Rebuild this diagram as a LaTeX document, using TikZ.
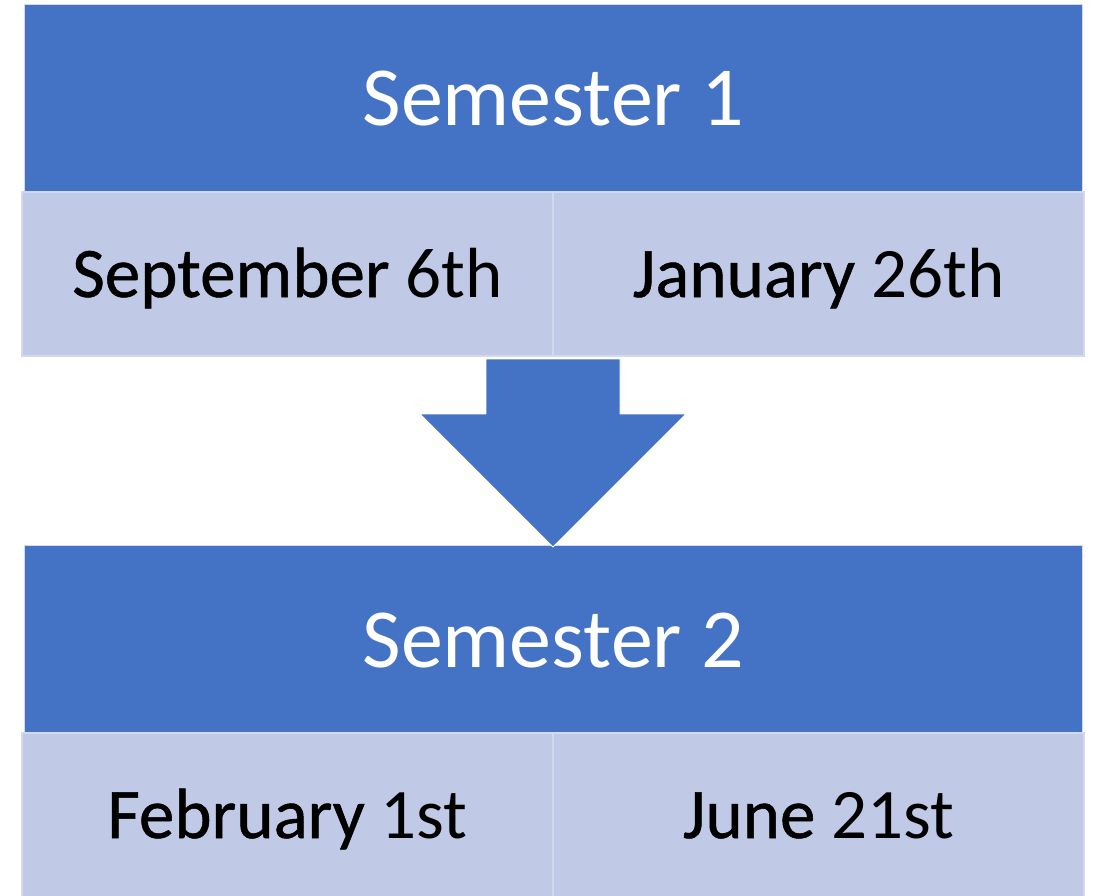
\documentclass[tikz,border=0pt]{standalone}
\usepackage{fontspec}
\setmainfont{Carlito}
\newfontfamily\monthfont[FakeBold=0.7]{Carlito}
\usetikzlibrary{positioning}
\definecolor{semblue}{HTML}{4472C4}
\definecolor{cellblue}{HTML}{C0C9E6}
\definecolor{cellline}{HTML}{D3D9EF}
\begin{document}
\begin{tikzpicture}[x=1pt,y=-1pt]
			\tikzstyle{Box}		= [rectangle, inner sep=0pt, outer sep=0pt]
			\tikzstyle{Header}	= [Box, fill=semblue, draw=cellline, line width=0.8pt, minimum width=1058pt, minimum height=189pt, text=white, font=\fontsize{84}{100}\selectfont, text height=54pt, text depth=0pt]
			\tikzstyle{Cell}		= [Box, fill=cellblue, draw=cellline, line width=1.5pt, minimum width=531pt, minimum height=164pt, text=black, font=\fontsize{71}{85}\selectfont, text height=46pt, text depth=0pt]
			\tikzstyle{Step}		= [fill=semblue, draw=white, line width=0.8pt]

			\useasboundingbox (0,0) rectangle (1094,895);

			\node (s1) at (553,98.5) [Header] {Semester 1};
			\node (s1a) at (287.5,274) [Cell] {{\monthfont September} 6th};
			\node (s1b) at (818.5,274) [Cell] {{\monthfont January} 26th};

			\node (s2) at (553,640) [Header] {Semester 2};
			\node (s2a) at (287.5,815) [Cell] {{\monthfont February} 1st};
			\node (s2b) at (818.5,815) [Cell] {{\monthfont June} 21st};

			% arrow from the first semester down to the second
			\draw [Step] (486,359) -- (620,359) -- (620,414) -- (686,414) -- (553,547) -- (420,414) -- (486,414) -- cycle;
		\end{tikzpicture}
\end{document}
